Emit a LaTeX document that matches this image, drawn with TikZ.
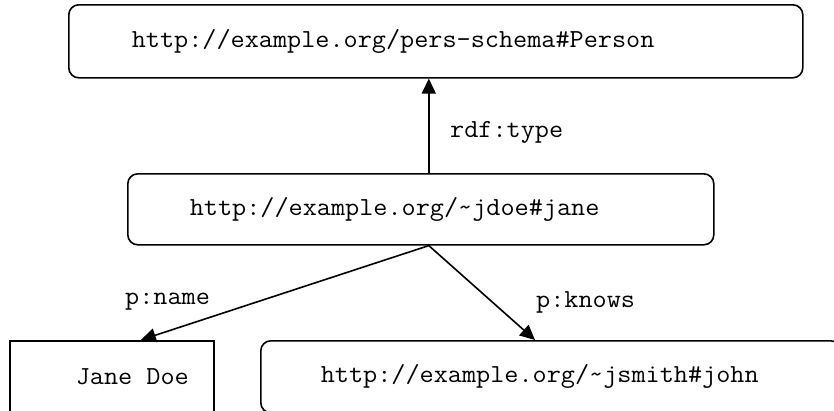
\documentclass[tikz,border=0pt]{standalone}
\usepackage{fontspec}
\newfontfamily\courfont[FakeStretch=1.055]{Latin Modern Mono}
\usetikzlibrary{arrows.meta}
\newcommand\padtext[3]{\makebox[#1][l]{\hspace{#2}#3}}
\begin{document}
\begin{tikzpicture}[x=1pt,y=-1pt,
  every node/.style={font=\courfont\fontsize{26pt}{30pt}\selectfont},
  rbox/.style={draw, line width=1.6pt, rounded corners=10pt, inner sep=0pt, anchor=north west},
  sbox/.style={draw, line width=1.6pt, inner sep=0pt, anchor=north west},
  conn/.style={line width=1.6pt, -{Triangle[length=15pt,width=14pt]}},
  lbl/.style={inner sep=0pt, anchor=west}]
\useasboundingbox (0,0) rectangle (834,410);
\clip (0,0) rectangle (834,410);
\node[rbox, minimum width=734pt, minimum height=73pt] (person) at (68,4)
  {\padtext{734pt}{63pt}{http://example.org/pers-schema\#Person}};
\node[rbox, minimum width=586pt, minimum height=71pt] (jane) at (127,173)
  {\padtext{586pt}{62pt}{http://example.org/\textasciitilde jdoe\#jane}};
\node[sbox, minimum width=204pt, minimum height=72pt] (name) at (9,340)
  {\padtext{204pt}{66pt}{Jane Doe}};
\node[rbox, minimum width=580pt, minimum height=72pt] (john) at (260,340)
  {\padtext{580pt}{60pt}{http://example.org/\textasciitilde jsmith\#john}};
\draw[conn] ([xshift=8pt]jane.north) -- ([xshift=8pt]jane.north |- person.south);
\draw[conn] ([xshift=8pt]jane.south) -- ([xshift=29pt]name.north);
\draw[conn] ([xshift=8pt]jane.south) -- ([xshift=275pt]john.north west);
\node[lbl] (ltype) at (450,132) {rdf:type};
\node[lbl] (lname) at (125,302) {p:name};
\node[lbl] (lknows) at (536,302) {p:knows};
\end{tikzpicture}
\end{document}
